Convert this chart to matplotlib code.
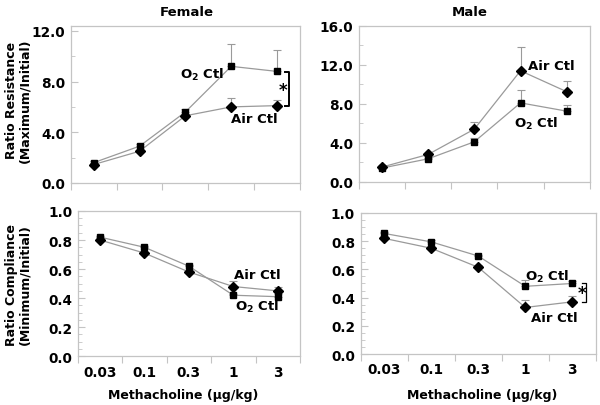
import matplotlib
matplotlib.use("Agg")
import matplotlib.pyplot as plt
import numpy as np
from matplotlib.ticker import MultipleLocator, FixedLocator, NullFormatter

plt.rcParams['font.family'] = ['DejaVu Sans']
plt.rcParams['font.weight'] = 'bold'
plt.rcParams['mathtext.default'] = 'bf'

doses = ["0.03", "0.1", "0.3", "1", "3"]

# Female resistance
f_res_o2 = [1.6, 2.9, 5.6, 9.2, 8.8]
f_res_o2_err = [0.15, 0.15, 0.2, 1.8, 1.7]
f_res_air = [1.45, 2.5, 5.3, 6.0, 6.1]
f_res_air_err = [0.1, 0.1, 0.1, 0.7, 0.45]

# Male resistance
m_res_air = [1.5, 2.8, 5.4, 11.4, 9.25]
m_res_air_err = [0.1, 0.15, 0.7, 2.4, 1.1]
m_res_o2 = [1.4, 2.35, 4.1, 8.1, 7.25]
m_res_o2_err = [0.1, 0.1, 0.35, 1.3, 0.6]

# Female compliance
f_com_o2 = [0.82, 0.75, 0.62, 0.42, 0.41]
f_com_o2_err = [0.01, 0.01, 0.01, 0.01, 0.02]
f_com_air = [0.80, 0.71, 0.58, 0.48, 0.45]
f_com_air_err = [0.01, 0.01, 0.01, 0.035, 0.025]

# Male compliance
m_com_o2 = [0.855, 0.795, 0.695, 0.48, 0.50]
m_com_o2_err = [0.01, 0.01, 0.01, 0.045, 0.015]
m_com_air = [0.82, 0.75, 0.615, 0.33, 0.37]
m_com_air_err = [0.01, 0.01, 0.015, 0.05, 0.04]

fig = plt.figure(figsize=(6.0, 4.06), dpi=100)

pos = {
    'fr': [0.118, 0.547, 0.382, 0.387],
    'mr': [0.598, 0.550, 0.385, 0.3835],
    'fc': [0.1295, 0.120, 0.3705, 0.358],
    'mc': [0.601, 0.1256, 0.392, 0.3474],
}

x = np.arange(len(doses)) + 0.5
LINE = '#9a9a9a'
SPINE = '#c4c4c4'


def style(ax, ylim, major, minor, show_x):
    ax.set_xlim(0, 5)
    ax.set_ylim(*ylim)
    for s in ax.spines.values():
        s.set_color(SPINE)
        s.set_linewidth(0.9)
    ax.yaxis.set_major_locator(MultipleLocator(major))
    ax.yaxis.set_minor_locator(MultipleLocator(minor))
    ax.tick_params(axis='y', which='major', direction='in', length=5, color=SPINE,
                   labelsize=9.8, pad=4)
    ax.tick_params(axis='y', which='minor', direction='in', length=3, color=SPINE)
    ax.xaxis.set_major_locator(FixedLocator(np.arange(0, 6)))
    ax.xaxis.set_major_formatter(NullFormatter())
    ax.tick_params(axis='x', which='major', direction='out', length=5, color=SPINE)
    if show_x:
        ax.xaxis.set_minor_locator(FixedLocator(x))
        ax.set_xticklabels(doses, minor=True)
        ax.tick_params(axis='x', which='minor', length=0, labelsize=9.8, pad=6)
    for lab in ax.get_yticklabels() + ax.get_xticklabels(minor=True):
        lab.set_fontweight('bold')


def series(ax, vals, err, marker, ms):
    ax.errorbar(x, vals, yerr=[np.zeros(len(vals)), err], fmt='none',
                ecolor=LINE, elinewidth=0.8, capsize=3, capthick=0.8, zorder=2)
    ax.plot(x, vals, color=LINE, lw=0.9, zorder=3)
    ax.plot(x, vals, linestyle='none', marker=marker, ms=ms, color='black',
            mec='black', zorder=4)


def bracket(ax, xb, y0, y1, xs, ys, lw):
    ax.plot([xb - 0.08, xb, xb, xb - 0.08], [y0, y0, y1, y1], color='black', lw=lw,
            clip_on=False, zorder=5)
    ax.text(xs, ys, '*', ha='center', va='center', fontsize=12, fontweight='bold')


lab_kw = dict(ha='center', va='center', fontsize=9.5, fontweight='bold')

ax = fig.add_axes(pos['fr'])
series(ax, f_res_o2, f_res_o2_err, 's', 5)
series(ax, f_res_air, f_res_air_err, 'D', 4.8)
style(ax, (0, 12.4), 4, 2, False)
ax.yaxis.set_major_formatter(plt.FuncFormatter(lambda v, p: f"{v:.1f}"))
ax.text(2.86, 8.6, r'O$_2$ Ctl', **lab_kw)
ax.text(4.0, 5.1, 'Air Ctl', **lab_kw)
bracket(ax, 4.76, 8.75, 6.07, 4.63, 7.3, 1.4)

ax = fig.add_axes(pos['mr'])
series(ax, m_res_air, m_res_air_err, 'D', 4.8)
series(ax, m_res_o2, m_res_o2_err, 's', 5)
style(ax, (0, 16.0), 4, 2, False)
ax.yaxis.set_major_formatter(plt.FuncFormatter(lambda v, p: f"{v:.1f}"))
ax.text(4.16, 11.9, 'Air Ctl', **lab_kw)
ax.text(3.83, 6.0, r'O$_2$ Ctl', **lab_kw)

ax = fig.add_axes(pos['fc'])
series(ax, f_com_o2, f_com_o2_err, 's', 5)
series(ax, f_com_air, f_com_air_err, 'D', 4.8)
style(ax, (0, 1.0), 0.2, 0.05, True)
ax.yaxis.set_major_formatter(plt.FuncFormatter(lambda v, p: f"{v:.1f}"))
ax.text(4.05, 0.566, 'Air Ctl', **lab_kw)
ax.text(4.04, 0.345, r'O$_2$ Ctl', **lab_kw)

ax = fig.add_axes(pos['mc'])
series(ax, m_com_o2, m_com_o2_err, 's', 5)
series(ax, m_com_air, m_com_air_err, 'D', 4.8)
style(ax, (0, 1.0), 0.2, 0.05, True)
ax.yaxis.set_major_formatter(plt.FuncFormatter(lambda v, p: f"{v:.1f}"))
ax.text(3.96, 0.555, r'O$_2$ Ctl', **lab_kw)
ax.text(4.11, 0.26, 'Air Ctl', **lab_kw)
bracket(ax, 4.79, 0.50, 0.37, 4.70, 0.43, 0.9)

# Titles and labels
fig.text(0.312, 0.968, 'Female', ha='center', va='center', fontsize=9.5, fontweight='bold')
fig.text(0.783, 0.968, 'Male', ha='center', va='center', fontsize=9.5, fontweight='bold')
fig.text(0.030, 0.752, 'Ratio Resistance\n(Maximum/Initial)', ha='center', va='center',
         rotation=90, fontsize=9, fontweight='bold', linespacing=1.05)
fig.text(0.030, 0.298, 'Ratio Compliance\n(Minimum/Initial)', ha='center', va='center',
         rotation=90, fontsize=9, fontweight='bold', linespacing=1.05)
fig.text(0.305, 0.027, 'Methacholine (\u03bcg/kg)', ha='center', va='center',
         fontsize=9, fontweight='bold')
fig.text(0.804, 0.027, 'Methacholine (\u03bcg/kg)', ha='center', va='center',
         fontsize=9, fontweight='bold')

fig.savefig('out.png', dpi=100)
